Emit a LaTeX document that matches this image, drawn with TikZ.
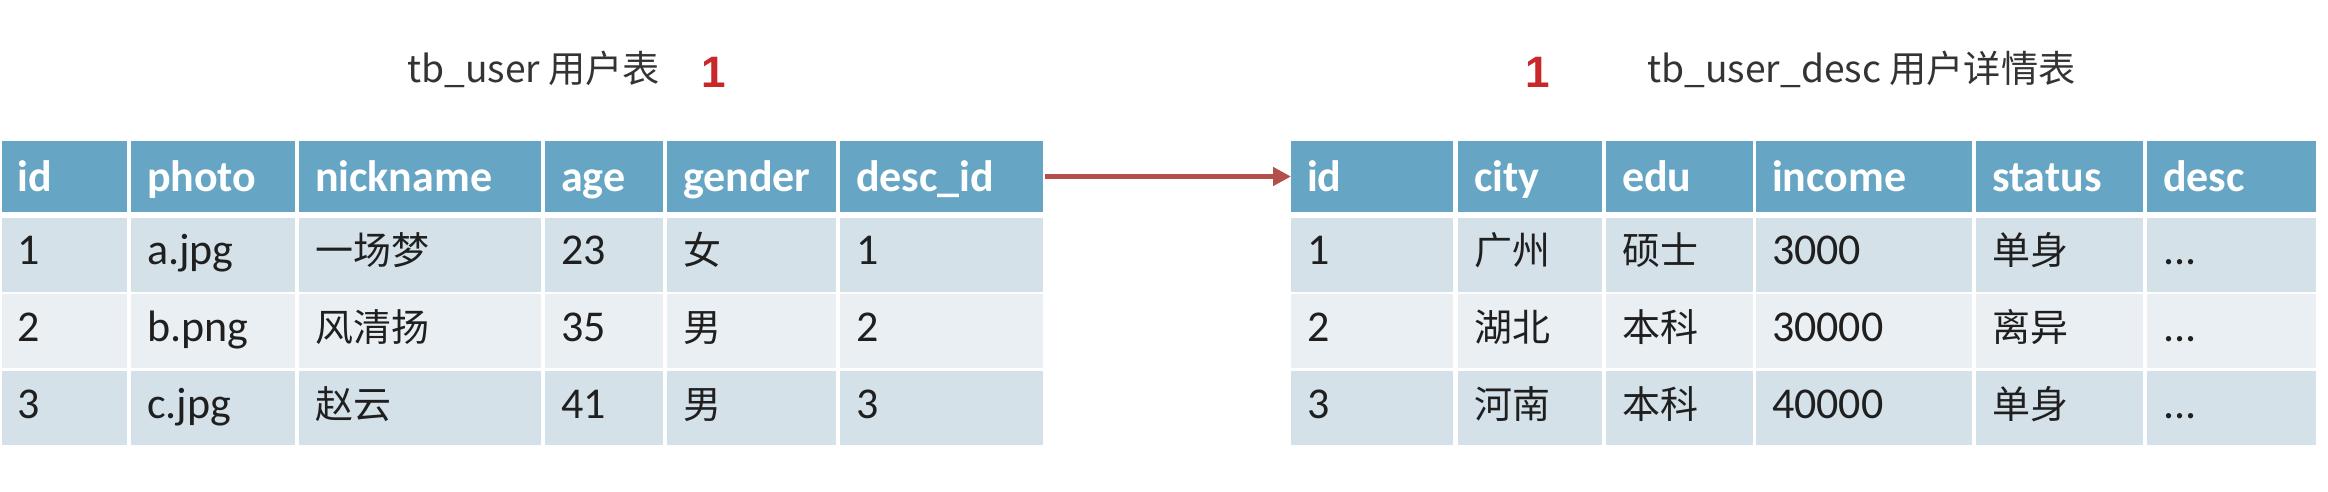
\documentclass[tikz,border=0pt]{standalone}
\usepackage{fontspec}
\setmainfont{Carlito}
\newfontfamily\cjk{Noto Sans CJK SC}
\newfontfamily\arial{Liberation Sans}
\usetikzlibrary{arrows.meta}
\definecolor{hdblue}{HTML}{66A6C4}
\definecolor{rowdark}{HTML}{D4E1E8}
\definecolor{rowlight}{HTML}{E9EFF3}
\definecolor{arrowred}{HTML}{B4504C}
\definecolor{onered}{HTML}{C8282A}
\newcommand{\zh}[1]{{\cjk\fontsize{19}{22}\selectfont #1}}

\begin{document}
\begin{tikzpicture}[x=0.5pt,y=-0.5pt,
  cell/.style={anchor=west,outer sep=0pt,inner xsep=8pt,inner ysep=0pt,text height=15pt,text depth=5pt,align=left,text=black!88,font=\fontsize{22}{26}\selectfont},
  hd/.style={cell,fill=hdblue,minimum height=35.5pt,text height=17.5pt,text depth=2.5pt,text=white,font=\fontsize{22}{26}\selectfont\bfseries},
  odd/.style={cell,fill=rowdark,minimum height=37pt},
  even/.style={cell,fill=rowlight,minimum height=37pt},
  title/.style={anchor=base west,inner sep=0pt,text=black!80,font=\cjk\fontsize{18.6}{23}\selectfont},
  one/.style={anchor=base,inner sep=0pt,text=onered,font=\arial\bfseries\fontsize{22}{25}\selectfont}]

\useasboundingbox (0,0) rectangle (2328,492);

\node[title] (t1) at (407,83) {tb\_user 用户表};
\node[one] (n1) at (714,88) {1};
\node[one] (n2) at (1538,88) {1};
\node[title] (t2) at (1647,83) {tb\_user\_desc 用户详情表};

\node[hd,text width=46.5pt] (uh1) at (2,176.5) {id};
\node[hd,text width=66pt] (uh2) at (131,176.5) {photo};
\node[hd,text width=105pt] (uh3) at (299,176.5) {nickname};
\node[hd,text width=43pt] (uh4) at (545,176.5) {age};
\node[hd,text width=68.5pt] (uh5) at (667,176.5) {gender};
\node[hd,text width=85.5pt] (uh6) at (840,176.5) {desc\_id};

\node[odd,text width=46.5pt] (u11) at (2,254.5) {1};
\node[odd,text width=66pt] (u12) at (131,254.5) {a.jpg};
\node[odd,text width=105pt] (u13) at (299,254.5) {\zh{一场梦}};
\node[odd,text width=43pt] (u14) at (545,254.5) {23};
\node[odd,text width=68.5pt] (u15) at (667,254.5) {\zh{女}};
\node[odd,text width=85.5pt] (u16) at (840,254.5) {1};

\node[even,text width=46.5pt] (u21) at (2,331) {2};
\node[even,text width=66pt] (u22) at (131,331) {b.png};
\node[even,text width=105pt] (u23) at (299,331) {\zh{风清扬}};
\node[even,text width=43pt] (u24) at (545,331) {35};
\node[even,text width=68.5pt] (u25) at (667,331) {\zh{男}};
\node[even,text width=85.5pt] (u26) at (840,331) {2};

\node[odd,text width=46.5pt] (u31) at (2,408) {3};
\node[odd,text width=66pt] (u32) at (131,408) {c.jpg};
\node[odd,text width=105pt] (u33) at (299,408) {\zh{赵云}};
\node[odd,text width=43pt] (u34) at (545,408) {41};
\node[odd,text width=68.5pt] (u35) at (667,408) {\zh{男}};
\node[odd,text width=85.5pt] (u36) at (840,408) {3};

\node[hd,text width=65pt] (dh1) at (1291,176.5) {id};
\node[hd,text width=56pt] (dh2) at (1458,176.5) {city};
\node[hd,text width=57.5pt] (dh3) at (1606,176.5) {edu};
\node[hd,text width=92pt] (dh4) at (1756,176.5) {income};
\node[hd,text width=67.5pt] (dh5) at (1976,176.5) {status};
\node[hd,text width=68.5pt] (dh6) at (2147,176.5) {desc};

\node[odd,text width=65pt] (d11) at (1291,254.5) {1};
\node[odd,text width=56pt] (d12) at (1458,254.5) {\zh{广州}};
\node[odd,text width=57.5pt] (d13) at (1606,254.5) {\zh{硕士}};
\node[odd,text width=92pt] (d14) at (1756,254.5) {3000};
\node[odd,text width=67.5pt] (d15) at (1976,254.5) {\zh{单身}};
\node[odd,text width=68.5pt] (d16) at (2147,254.5) {...};

\node[even,text width=65pt] (d21) at (1291,331) {2};
\node[even,text width=56pt] (d22) at (1458,331) {\zh{湖北}};
\node[even,text width=57.5pt] (d23) at (1606,331) {\zh{本科}};
\node[even,text width=92pt] (d24) at (1756,331) {30000};
\node[even,text width=67.5pt] (d25) at (1976,331) {\zh{离异}};
\node[even,text width=68.5pt] (d26) at (2147,331) {...};

\node[odd,text width=65pt] (d31) at (1291,408) {3};
\node[odd,text width=56pt] (d32) at (1458,408) {\zh{河南}};
\node[odd,text width=57.5pt] (d33) at (1606,408) {\zh{本科}};
\node[odd,text width=92pt] (d34) at (1756,408) {40000};
\node[odd,text width=67.5pt] (d35) at (1976,408) {\zh{单身}};
\node[odd,text width=68.5pt] (d36) at (2147,408) {...};

\draw[draw=arrowred,line width=2.5pt,-{Triangle[length=9pt,width=9pt]},shorten <=1pt] (uh6.east) -- (dh1.west);

\end{tikzpicture}
\end{document}
